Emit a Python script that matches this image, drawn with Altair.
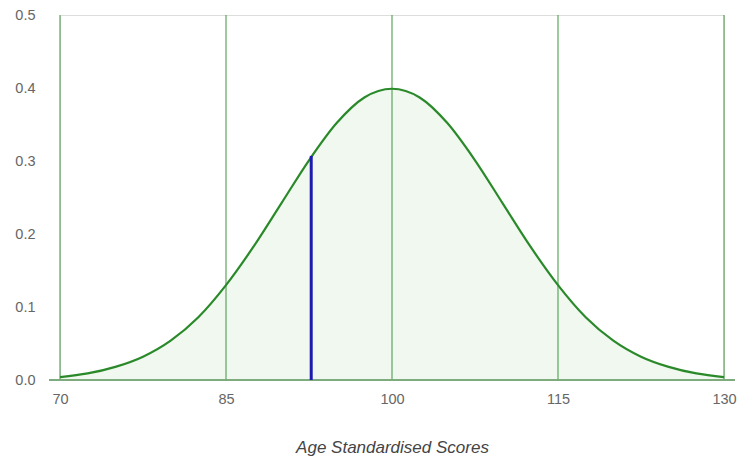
import altair as alt
import pandas as pd

# Curve values (score, density)
scores = [70, 72.5, 75, 77.5, 80, 82.5, 85, 87.5, 90, 92.5, 95, 97.5, 100,
          102.5, 105, 107.5, 110, 112.5, 115, 117.5, 120, 122.5, 125, 127.5, 130]
density = [0.004, 0.009, 0.018, 0.032, 0.054, 0.086, 0.130, 0.183, 0.242, 0.301, 0.352, 0.387, 0.399,
           0.387, 0.352, 0.301, 0.242, 0.183, 0.130, 0.086, 0.054, 0.032, 0.018, 0.009, 0.004]

x_ticks = [70, 85, 100, 115, 130]
y_ticks = [0.0, 0.1, 0.2, 0.3, 0.4, 0.5]

marker_score = [92.7]
marker_top = [0.307]

curve = pd.DataFrame({"score": scores, "density": density})
grid = pd.DataFrame({"score": x_ticks})
marker = pd.DataFrame({"score": marker_score, "top": marker_top, "bottom": [0.0]})

xs = alt.Scale(domain=[70, 130], nice=False, zero=False)
ys = alt.Scale(domain=[0, 0.5], nice=False)

base_x = alt.X("score:Q", scale=xs,
               axis=alt.Axis(values=x_ticks, title="Age Standardised Scores", grid=False,
                             domain=False, ticks=False, labelPadding=12, labelFontSize=14.5,
                             labelFlush=False, labelBound=False, labelOverlap=False,
                             labelColor="#666666", labelFont="Liberation Sans",
                             titleFont="Liberation Sans", titleFontStyle="italic",
                             titleFontWeight="normal", titleFontSize=17, titleColor="#444444",
                             titlePadding=34))

area = alt.Chart(curve).mark_area(color="#e9f5e9", opacity=0.7, interpolate="monotone").encode(
    x=base_x,
    y=alt.Y("density:Q", scale=ys,
            axis=alt.Axis(values=y_ticks, format=".1f", title=None, grid=False, domain=False,
                          ticks=False, labelPadding=25, labelFontSize=14.5, labelColor="#666666",
                          labelFont="Liberation Sans", labelFlush=False, labelBound=False)),
)

gridlines = alt.Chart(grid).mark_rule(color="#4f9f4f", strokeWidth=1.3, opacity=0.85).encode(
    x=alt.X("score:Q", scale=xs),
    y=alt.value(0),
    y2=alt.value(365),
)

baseline = alt.Chart(grid).mark_rule(color="#7aaa7a", strokeWidth=1.2).encode(
    x=alt.value(-11), x2=alt.value(675), y=alt.value(365)
)

line = alt.Chart(curve).mark_line(color="#2a8a2a", strokeWidth=2.2, interpolate="monotone").encode(
    x=alt.X("score:Q", scale=xs),
    y=alt.Y("density:Q", scale=ys),
)

blue = alt.Chart(marker).mark_rule(color="#1c1cb0", strokeWidth=3).encode(
    x=alt.X("score:Q", scale=xs),
    y=alt.Y("bottom:Q", scale=ys),
    y2="top:Q",
)

chart = alt.layer(area, gridlines, baseline, line, blue).properties(
    width=664, height=365,
    autosize=alt.AutoSizeParams(type="none"),
    padding={"left": 52, "top": 7, "right": 13, "bottom": 77},
).configure_view(stroke=None).configure(background="white")

chart.save("out.html", embed_options={"renderer": "svg", "actions": False})
